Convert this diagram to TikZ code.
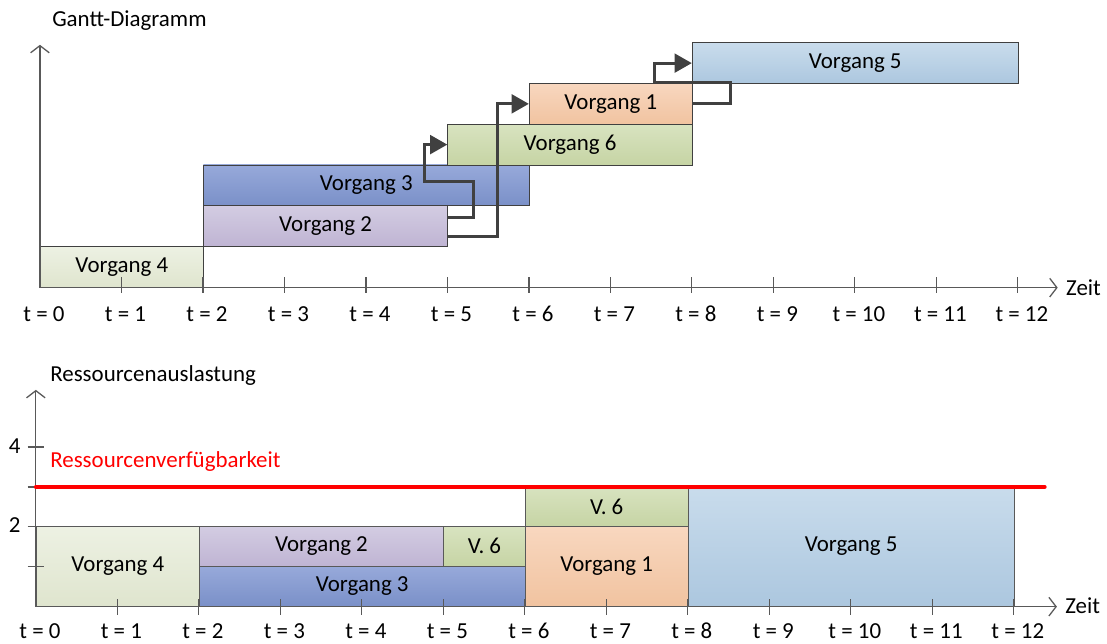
\documentclass[tikz,border=0pt]{standalone}
\usepackage{fontspec}
\setmainfont{Carlito}
\usepackage{tikz}
\usetikzlibrary{arrows.meta}

\definecolor{axisgray}{HTML}{595959}
\definecolor{linegray}{HTML}{404040}
\definecolor{vfourtop}{HTML}{EDF1E3}
\definecolor{vfourbot}{HTML}{DFE5CE}
\definecolor{vtwotop}{HTML}{D3CCE2}
\definecolor{vtwobot}{HTML}{BFB4D3}
\definecolor{vthreetop}{HTML}{97A9DA}
\definecolor{vthreebot}{HTML}{7A90C8}
\definecolor{vsixtop}{HTML}{D8E3C0}
\definecolor{vsixbot}{HTML}{C6D4A4}
\definecolor{vonetop}{HTML}{F8D7BF}
\definecolor{vonebot}{HTML}{F1C3A0}
\definecolor{vfivetop}{HTML}{C9DCEC}
\definecolor{vfivebot}{HTML}{ACC7DF}

\begin{document}
\begin{tikzpicture}[x=2cm, y=1cm, font=\fontsize{16}{19}\selectfont,
    axis/.style={draw=axisgray, line width=0.9pt,
      {Straight Barb[length=5pt,width=13pt]}-{Straight Barb[length=5pt,width=13pt]}},
    tickmark/.style={draw=axisgray, line width=0.9pt},
    task/.style={draw=linegray, line width=0.6pt, inner sep=0pt, anchor=south west, minimum height=1cm},
    rtask/.style={task, draw=axisgray},
    conn/.style={draw=linegray, line width=2.1pt, -{Triangle[length=12pt,width=13pt]}},
    v4/.style={top color=vfourtop, bottom color=vfourbot},
    v2/.style={top color=vtwotop, bottom color=vtwobot},
    v3/.style={top color=vthreetop, bottom color=vthreebot},
    v6/.style={top color=vsixtop, bottom color=vsixbot},
    v1/.style={top color=vonetop, bottom color=vonebot},
    v5/.style={top color=vfivetop, bottom color=vfivebot}]

    \useasboundingbox (0,0) rectangle (13.585,15.8);

    % Titles
    \node[anchor=base west, inner sep=0pt] (gtitle) at (0.638,15.14) {Gantt-Diagramm};
    \node[anchor=base west, inner sep=0pt] (rtitle) at (0.614,6.43) {Ressourcenauslastung};
    \node[anchor=base west, inner sep=0pt, text=red] (captxt) at (0.614,4.32) {Ressourcenverfügbarkeit};

    % Gantt chart (top)
    \begin{scope}[shift={(0.49,8.74)}]
        \node[task, v4, minimum width=4cm] (g4) at (0,0) {Vorgang 4};
        \node[task, v2, minimum width=6cm] (g2) at (2,1) {Vorgang 2};
        \node[task, v3, minimum width=8cm] (g3) at (2,2) {Vorgang 3};
        \node[task, v6, minimum width=6cm] (g6) at (5,3) {Vorgang 6};
        \node[task, v1, minimum width=4cm] (g1) at (6,4) {Vorgang 1};
        \node[task, v5, minimum width=8cm] (g5) at (8,5) {Vorgang 5};

        \coordinate (go) at (0,0);
        \coordinate (gx) at (12.49,0);
        \coordinate (gy) at (0,5.96);
        \draw[axis] (gy) -- (go) -- (gx);
        \node[anchor=base west, inner sep=0pt] (gzeit) at ([xshift=0.2cm,yshift=-0.2cm]gx) {Zeit};
        \foreach \t in {1,...,12}
            \draw[tickmark] (\t,-0.13) -- (\t,0.25);
        \foreach \t in {0,...,12}
            \node[anchor=base, inner sep=1pt] (gt\t) at ([xshift=0.1cm]\t,-0.83) {t = \t};

        % dependencies
        \draw[conn] ([yshift=0.22cm]g2.east) -- ++(0.61cm,0) -- ++(0,0.88cm) -- ++(-1.2cm,0) |- (g6.west);
        \draw[conn] ([yshift=-0.25cm]g2.east) -- ++(1.2cm,0) |- (g1.west);
        \draw[conn] (g1.east) -- ++(0.93cm,0) -- ++(0,0.52cm) -- ++(-1.86cm,0) |- (g5.west);
    \end{scope}

    % Resource load (bottom)
    \begin{scope}[shift={(0.44,0.91)}, y=0.98cm]
        \node[rtask, v4, minimum width=4cm, minimum height=1.96cm] (r4) at (0,0) {Vorgang 4};
        \node[rtask, v3, minimum width=8cm, minimum height=0.98cm] (r3) at (2,0) {Vorgang 3};
        \node[rtask, v2, minimum width=6cm, minimum height=0.98cm] (r2) at (2,1) {Vorgang 2};
        \node[rtask, v6, minimum width=2cm, minimum height=0.98cm] (r6a) at (5,1) {V. 6};
        \node[rtask, v1, minimum width=4cm, minimum height=1.96cm] (r1) at (6,0) {Vorgang 1};
        \node[rtask, v6, minimum width=4cm, minimum height=0.98cm] (r6b) at (6,2) {V. 6};
        \node[rtask, v5, minimum width=8cm, minimum height=2.94cm] (r5) at (8,0) {Vorgang 5};

        \coordinate (ro) at (0,0);
        \coordinate (rx) at (12.53,0);
        \coordinate (ry) at (0,5.43);
        \draw[axis] (ry) -- (ro) -- (rx);
        \node[anchor=base west, inner sep=0pt] (rzeit) at ([xshift=0.2cm,yshift=-0.16cm]rx) {Zeit};
        \foreach \t in {1,...,12}
            \draw[tickmark] (\t,-0.2) -- (\t,0.2);
        \foreach \t in {0,...,12}
            \node[anchor=base, inner sep=1pt] (rt\t) at ([xshift=0.1cm,yshift=-0.79cm]\t,0) {t = \t};
        \foreach \l in {1,...,4}
            \draw[tickmark] (-0.1,\l) -- (0.1,\l);
        \node[anchor=base east, inner sep=0pt] (rl4) at ([xshift=-0.37cm,yshift=-0.15cm]0,4) {4};
        \node[anchor=base east, inner sep=0pt] (rl2) at ([xshift=-0.37cm,yshift=-0.15cm]0,2) {2};

        % capacity
        \coordinate (cap0) at (0,3);
        \coordinate (cap1) at (12.38,3);
        \draw[red, line width=2.8pt, line cap=round] (cap0) -- (cap1);
    \end{scope}

\end{tikzpicture}
\end{document}
